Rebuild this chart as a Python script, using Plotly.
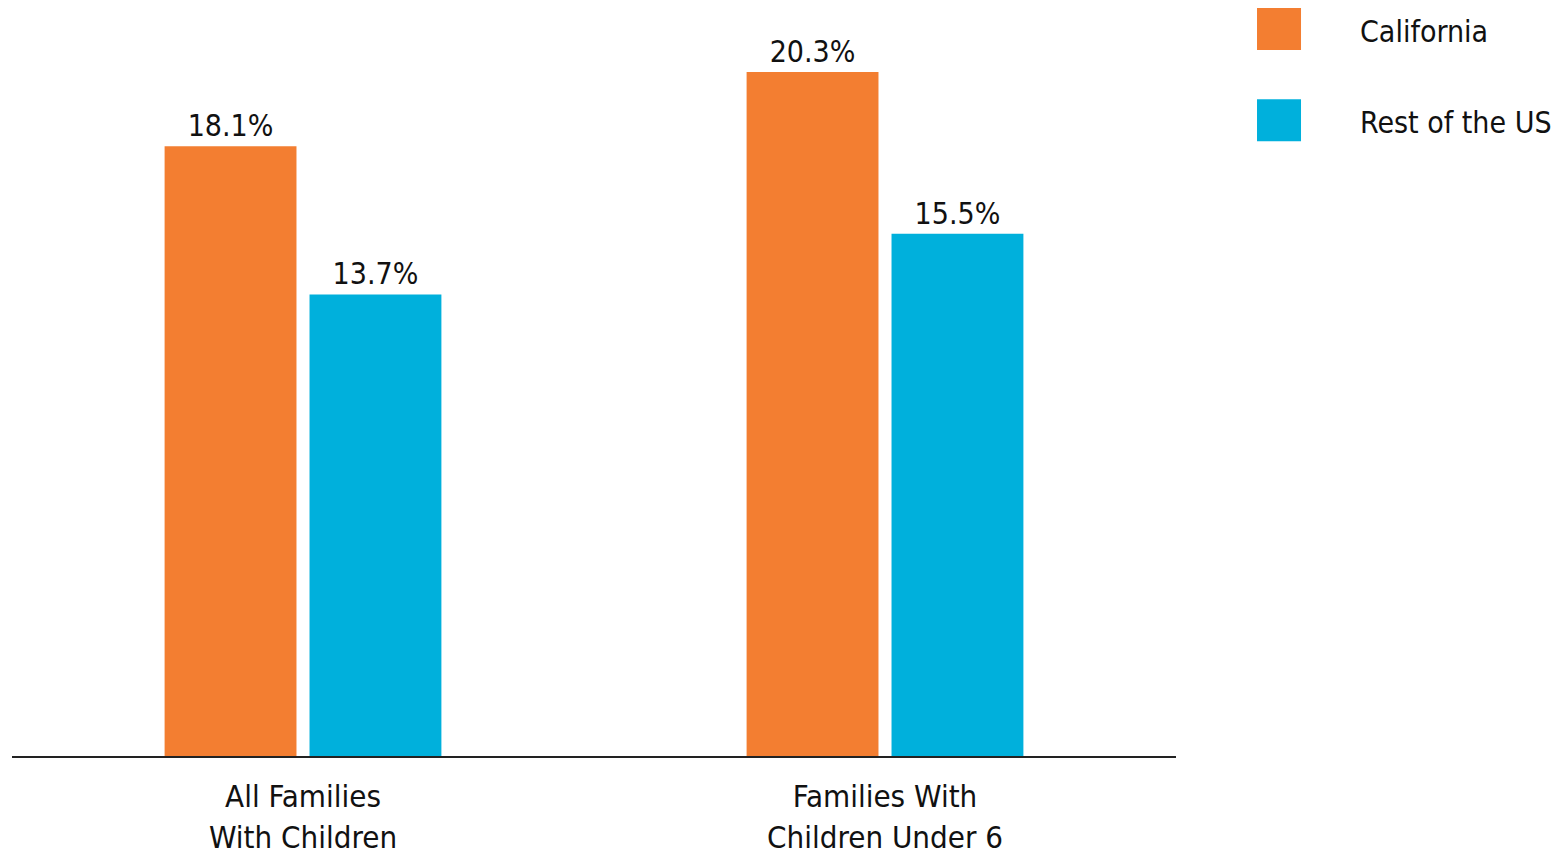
import plotly.graph_objects as go

categories = ["All Families<br>With Children", "Families With<br>Children Under 6"]
series_names = ["California", "Rest of the US"]
california = [18.1, 20.3]
rest_of_us = [13.7, 15.5]
colors = ["#F37E31", "#00B0DC"]

FONT = "Liberation Sans Narrow, DejaVu Sans Condensed, Roboto, sans-serif"

fig = go.Figure()
for name, vals, col in zip(series_names, [california, rest_of_us], colors):
    fig.add_trace(go.Bar(
        x=categories, y=vals, name=name, marker=dict(color=col, line=dict(width=0)),
        text=[f"{v:.1f}%" for v in vals], textposition="outside",
        textfont=dict(size=30, color="#111111", family=FONT),
        cliponaxis=False, showlegend=False,
    ))

# custom legend
legend_y = [0.972, 0.850]
for name, col, yc in zip(series_names, colors, legend_y):
    fig.add_shape(type="rect", xref="paper", yref="paper",
                  x0=1.0696, x1=1.1074, y0=yc - 0.028, y1=yc + 0.028,
                  fillcolor=col, line=dict(width=0))
    fig.add_annotation(text=name, xref="paper", yref="paper", x=1.156, y=yc - 0.003,
                       xanchor="left", yanchor="middle", showarrow=False,
                       font=dict(size=30, color="#111111", family=FONT))

fig.update_layout(
    width=1558, height=849,
    margin=dict(l=4, r=390, t=0, b=101, autoexpand=False),
    paper_bgcolor="white", plot_bgcolor="white",
    barmode="group", bargap=0.502, bargroupgap=0.09,
    font=dict(family=FONT, color="#111111"),
    xaxis=dict(showline=True, linecolor="#222222", linewidth=2, ticks="",
               ticklabelstandoff=12,
               tickfont=dict(size=31, family=FONT, color="#111111"),
               showgrid=False, zeroline=False),
    yaxis=dict(range=[0, 22.2], visible=False, showgrid=False, zeroline=False),
)

fig.write_html("out.html")
